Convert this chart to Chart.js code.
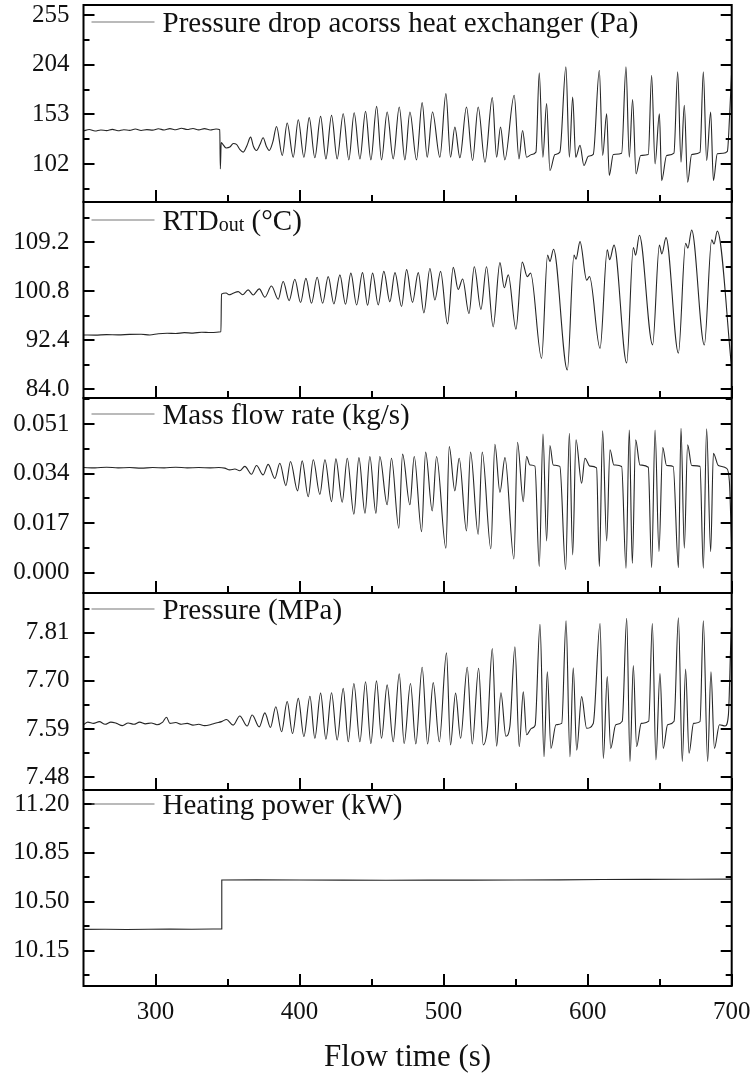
<!DOCTYPE html>
<html>
<head>
<meta charset="utf-8">
<title>Flow instability time series</title>
<script src="https://cdn.jsdelivr.net/npm/chart.js@4.4.1/dist/chart.umd.min.js"></script>
<style>
  html, body { margin: 0; padding: 0; background: #fff; overflow: hidden; }
  #wrap { position: relative; width: 754px; height: 1076px; }
  #wrap canvas { position: absolute; left: 0; top: 0; }
</style>
</head>
<body>
<div id="wrap">
  <canvas id="c1" width="754" height="1076"></canvas>
  <canvas id="c2" width="754" height="1076"></canvas>
  <canvas id="c3" width="754" height="1076"></canvas>
  <canvas id="c4" width="754" height="1076"></canvas>
  <canvas id="c5" width="754" height="1076"></canvas>
</div>
<script>
// ---------- shared time axis ----------
const xTitle = 'Flow time (s)';
const xTickLabels = ['300', '400', '500', '600', '700'];

// ---------- pressure drop across the heat exchanger (Pa) ----------
const dpLabel = ['Pressure drop acorss heat exchanger (Pa)'];
const dpTickLabels = ['102', '153', '204', '255'];
const dpTime = [250, 254, 258, 262, 266, 270, 274, 278, 282, 286, 290, 294, 298, 302, 306, 310, 314, 318, 322, 326, 330, 334, 338, 342, 344.6,
  345.0, 345.6, 346.5, 349.0, 351.6, 354.0, 356.2, 358.5, 360.9, 363.5, 366.0, 368.0, 370.1, 372.5, 374.7, 377.0, 378.9, 381.5, 384.0, 388.0,
  391.4, 395.6, 399.1, 403.0, 406.7, 410.6, 414.6, 418.3, 422.2, 426.1, 430.3, 434.2, 437.9, 441.9, 445.8, 449.5, 453.5, 456.9, 460.8, 465.0,
  469.2, 473.1, 476.6, 481.2, 485.1, 488.6, 492.3, 497.4, 501.6, 504.8, 507.8, 511.3, 515.9, 520.1, 524.0, 528.7, 533.8, 536.8, 539.5, 542.5,
  549.0, 552.3, 554.8, 557.6, 561.1, 564.1, 566.4, 568.9, 571.5, 573.8, 577.3, 580.7, 584.9, 587.3, 589.6, 591.7, 594.7, 597.4, 600.5, 603.9,
  608.1, 610.4, 613.2, 615.0, 617.8, 623.6, 626.6, 628.9, 631.2, 633.6, 636.8, 642.1, 644.4, 646.8, 649.8, 651.4, 654.8, 659.9, 662.5, 664.8,
  667.1, 669.4, 672.2, 678.0, 680.3, 682.6, 685.4, 687.3, 690.0, 694.0, 697.0, 698.5, 700];
const dpValue = [136.0, 137.4, 135.9, 137.0, 136.3, 137.6, 136.1, 137.2, 136.6, 137.9, 136.4, 137.3, 136.8, 138.2, 137.0, 138.4, 137.2, 138.8, 137.4, 138.5, 137.1, 138.3, 137.0, 138.0, 137.3,
  97.0, 124.0, 122.8, 118.5, 119.4, 123.0, 122.1, 117.0, 114.2, 121.0, 129.6, 120.0, 115.9, 122.0, 129.0, 120.0, 115.9, 125.0, 140.6, 110.8,
  144.1, 109.0, 147.5, 109.0, 149.6, 108.4, 150.9, 107.3, 152.0, 107.3, 153.7, 106.3, 154.7, 107.3, 156.1, 106.3, 161.2, 106.3, 155.4, 107.3,
  160.6, 106.3, 155.4, 106.3, 165.0, 109.0, 155.4, 109.0, 174.3, 109.0, 140.0, 108.4, 160.6, 105.6, 160.6, 103.9, 170.2, 109.0, 140.0, 106.3,
  172.6, 107.3, 136.5, 109.0, 111.8, 114.2, 195.6, 109.0, 164.0, 95.3, 111.8, 114.2, 201.8, 109.0, 170.9, 109.0, 121.1, 100.5, 110.0, 112.0,
  198.3, 110.8, 153.7, 90.2, 111.8, 113.0, 201.8, 109.0, 168.1, 91.9, 110.8, 111.8, 193.2, 102.2, 153.7, 85.0, 110.8, 113.2, 196.6, 103.9,
  162.3, 83.3, 111.8, 114.0, 196.6, 105.6, 155.4, 85.0, 112.5, 113.0, 115.0, 150.0, 198.0];

// ---------- outlet RTD temperature (°C) ----------
const rtdLabel = ['RTD', 'out', ' (°C)'];
const rtdTickLabels = ['84.0', '92.4', '100.8', '109.2'];
const rtdTime = [250, 258, 266, 274, 282, 290, 296, 302, 308, 314, 320, 326, 332, 338, 345.4,
  345.8, 349.0, 351.0, 353.9, 357.4, 360.4, 364.3, 367.8, 372.0, 375.9, 380.5, 385.2, 388.6, 392.8, 396.7, 400.7, 404.4, 408.3, 412.2, 416.0,
  419.9, 423.8, 428.0, 431.9, 435.6, 439.6, 443.7, 447.2, 450.7, 454.6, 458.5, 462.7, 466.2, 470.8, 474.3, 478.4, 482.4, 486.3, 490.5, 493.9,
  497.9, 502.7, 506.7, 510.1, 513.2, 517.6, 521.3, 525.9, 529.8, 534.4, 539.1, 542.1, 544.9, 550.2, 554.6, 558.1, 560.4, 568.0, 572.2, 573.8,
  576.3, 585.9, 590.5, 591.9, 594.7, 599.3, 601.3, 608.6, 613.6, 615.3, 618.3, 627.1, 631.7, 633.3, 635.9, 645.1, 649.8, 651.5, 654.4, 663.0,
  668.0, 669.6, 672.2, 681.0, 686.1, 687.7, 690.0, 700];
const rtdValue = [93.30, 93.28, 93.36, 93.32, 93.40, 93.42, 93.30, 93.52, 93.60, 93.55, 93.70, 93.63, 93.78, 93.72, 93.86,
  100.3, 100.5, 100.2, 100.45, 100.74, 100.2, 101.03, 100.17, 101.2, 99.77, 101.7, 99.43, 102.46, 99.2, 102.85, 98.86, 103.0, 98.74, 103.2, 98.74,
  103.3, 98.63, 103.6, 98.57, 103.9, 98.46, 104.0, 98.4, 103.9, 98.46, 104.2, 99.0, 104.0, 98.2, 104.5, 98.9, 104.0, 97.1, 104.7, 99.3,
  104.2, 95.2, 104.9, 101.1, 102.9, 97.0, 105.0, 97.7, 105.0, 94.7, 105.7, 101.4, 103.6, 94.3, 105.8, 103.3, 103.9, 89.3, 107.0, 105.9,
  108.0, 87.3, 107.0, 106.3, 109.3, 102.7, 103.3, 91.0, 107.9, 106.2, 108.7, 88.5, 108.3, 107.0, 110.4, 91.6, 108.7, 107.2, 110.0, 90.2,
  109.0, 108.2, 111.3, 91.6, 109.6, 108.9, 111.1, 87.5];

// ---------- mass flow rate (kg/s) ----------
const mfLabel = ['Mass flow rate (kg/s)'];
const mfTickLabels = ['0.000', '0.017', '0.034', '0.051'];
const mfTime = [250, 258, 266, 274, 282, 290, 298, 306, 314, 322, 330, 338, 344, 348,
  351.6, 355.1, 358.5, 362.0, 366.6, 370.1, 374.7, 378.2, 382.8, 386.3, 390.5, 393.7, 398.6, 401.8, 406.0, 409.5, 414.1, 417.6, 422.2, 425.2,
  429.6, 433.1, 437.7, 441.2, 445.4, 448.8, 453.0, 455.7, 460.8, 463.8, 468.9, 471.5, 476.6, 479.6, 484.7, 487.5, 492.1, 495.1, 501.6, 503.9,
  507.8, 510.8, 515.9, 518.7, 524.0, 526.8, 532.8, 535.6, 539.1, 542.6, 548.8, 551.3, 555.3, 557.6, 559.9, 563.4, 566.4, 569.0, 571.5, 573.8,
  576.1, 580.7, 584.7, 587.3, 589.6, 591.9, 595.8, 598.1, 601.6, 606.2, 608.1, 610.4, 613.2, 615.5, 618.2, 623.6, 626.6, 628.9, 631.0, 633.3,
  636.3, 642.1, 644.4, 646.8, 649.5, 652.1, 654.8, 659.4, 663.0, 664.8, 667.1, 669.4, 672.2, 678.0, 680.3, 682.6, 685.4, 687.3, 690.7, 696.5,
  698.4, 700];
const mfValue = [0.0361, 0.0360, 0.0362, 0.0360, 0.0361, 0.0359, 0.0361, 0.0360, 0.0362, 0.0360, 0.0361, 0.0360, 0.0361, 0.0359,
  0.0353, 0.0356, 0.0350, 0.0365, 0.0338, 0.0368, 0.0336, 0.0372, 0.0324, 0.0376, 0.0299, 0.0382, 0.0281, 0.0384, 0.0261, 0.0388, 0.0269, 0.0388, 0.0244, 0.0391,
  0.0242, 0.0393, 0.0201, 0.0395, 0.0204, 0.0399, 0.0204, 0.0399, 0.0233, 0.0393, 0.0153, 0.0407, 0.0233, 0.0399, 0.0141, 0.0414, 0.0212, 0.0399, 0.0084, 0.0433,
  0.0281, 0.0393, 0.0143, 0.0414, 0.0132, 0.0414, 0.0082, 0.0441, 0.0276, 0.0395, 0.0047, 0.0448, 0.0244, 0.0399, 0.0370, 0.0366, 0.0021, 0.0476, 0.0109, 0.0437,
  0.0370, 0.0365, 0.0010, 0.0479, 0.0061, 0.0456, 0.0307, 0.0393, 0.0366, 0.0360, 0.0021, 0.0487, 0.0109, 0.0422, 0.0370, 0.0365, 0.0015, 0.0490, 0.0032, 0.0456,
  0.0370, 0.0362, 0.0017, 0.0490, 0.0072, 0.0430, 0.0368, 0.0365, 0.0017, 0.0496, 0.0084, 0.0439, 0.0368, 0.0365, 0.0015, 0.0494, 0.0072, 0.0410, 0.0368, 0.0358,
  0.0313, 0.0080];

// ---------- system pressure (MPa) ----------
const pLabel = ['Pressure (MPa)'];
const pTickLabels = ['7.48', '7.59', '7.70', '7.81'];
const pTime = [250, 253, 257, 261, 265, 269, 273, 277, 281, 285, 289, 293, 297, 301, 305, 307.6, 310, 314, 318, 322, 326, 330, 334, 338, 342, 345.8,
  349.3, 353.9, 358.5, 363.6, 367.1, 372.0, 375.9, 379.8, 383.5, 387.5, 391.4, 395.1, 399.1, 403.0, 407.2, 410.6, 414.6, 418.3, 422.2, 426.1,
  430.3, 433.8, 437.7, 441.9, 445.8, 449.5, 453.4, 456.9, 460.8, 465.0, 469.2, 472.6, 477.0, 480.7, 485.1, 488.9, 492.8, 497.0, 502.0, 504.8,
  508.3, 511.8, 516.4, 519.9, 524.3, 527.5, 530.5, 533.8, 536.8, 539.8, 543.2, 546.0, 549.5, 552.5, 555.3, 557.6, 561.1, 563.5, 566.9, 569.7,
  572.0, 574.5, 578.0, 582.0, 585.0, 587.7, 590.0, 592.4, 595.8, 599.3, 603.9, 608.6, 610.9, 613.6, 616.0, 619.5, 624.0, 627.1, 629.4, 631.7,
  634.0, 637.2, 642.4, 644.9, 647.4, 650.2, 652.5, 655.5, 660.0, 663.0, 665.7, 668.0, 670.4, 673.5, 678.0, 680.3, 683.3, 685.6, 688.0, 691.5,
  695.5, 697.7, 699.5, 700];
const pValue = [7.600, 7.606, 7.603, 7.607, 7.601, 7.606, 7.603, 7.598, 7.604, 7.601, 7.606, 7.602, 7.604, 7.600, 7.606, 7.617, 7.603, 7.605, 7.601, 7.603, 7.599, 7.601, 7.598, 7.600, 7.604, 7.607,
  7.612, 7.599, 7.620, 7.597, 7.622, 7.595, 7.627, 7.594, 7.641, 7.584, 7.653, 7.580, 7.660, 7.573, 7.665, 7.569, 7.672, 7.567, 7.673, 7.565,
  7.683, 7.561, 7.694, 7.561, 7.698, 7.557, 7.700, 7.569, 7.691, 7.561, 7.716, 7.557, 7.694, 7.556, 7.731, 7.556, 7.696, 7.561, 7.764, 7.554,
  7.672, 7.569, 7.731, 7.556, 7.729, 7.554, 7.596, 7.774, 7.551, 7.673, 7.574, 7.596, 7.778, 7.550, 7.675, 7.577, 7.592, 7.598, 7.829, 7.527,
  7.721, 7.546, 7.600, 7.603, 7.837, 7.527, 7.730, 7.542, 7.664, 7.592, 7.603, 7.831, 7.523, 7.710, 7.546, 7.600, 7.608, 7.843, 7.516, 7.735,
  7.550, 7.603, 7.608, 7.831, 7.520, 7.717, 7.546, 7.600, 7.608, 7.844, 7.516, 7.727, 7.535, 7.603, 7.607, 7.837, 7.516, 7.721, 7.546, 7.600,
  7.597, 7.622, 7.800, 7.830];

// ---------- heating power (kW) ----------
const pwLabel = ['Heating power (kW)'];
const pwTickLabels = ['10.15', '10.50', '10.85', '11.20'];
const pwTime = [250, 265, 280, 295, 310, 325, 340, 345.6, 346.0, 370, 400, 430, 460, 490, 520, 550, 580, 610, 640, 670, 700];
const pwValue = [10.302, 10.303, 10.301, 10.303, 10.304, 10.303, 10.305, 10.305, 10.656, 10.657, 10.656, 10.655, 10.654, 10.655, 10.655, 10.656, 10.657, 10.659, 10.660, 10.661, 10.662];

// ---------- layout of the five stacked panels ----------
const SERIF = '"Liberation Serif", "Times New Roman", serif';
const PAGE_H = 1076;
const panels = [
  { id: 'c1', top: 5,   bottom: 202, min: 63,     max: 265.3,  ticks: dpTickLabels,  time: dpTime,  value: dpValue,  legend: dpLabel,  legendDy: 17, smooth: true },
  { id: 'c2', top: 202, bottom: 398, min: 82.5,   max: 116.1,  ticks: rtdTickLabels, time: rtdTime, value: rtdValue, legend: rtdLabel, legendDy: 18, smooth: true },
  { id: 'c3', top: 398, bottom: 593, min: -0.007, max: 0.0600, ticks: mfTickLabels,  time: mfTime,  value: mfValue,  legend: mfLabel,  legendDy: 16, smooth: true },
  { id: 'c4', top: 593, bottom: 790, min: 7.451,  max: 7.9006, ticks: pTickLabels,   time: pTime,   value: pValue,   legend: pLabel,   legendDy: 16, smooth: true },
  { id: 'c5', top: 790, bottom: 986, min: 9.897,  max: 11.300, ticks: pwTickLabels,  time: pwTime,  value: pwValue,  legend: pwLabel,  legendDy: 14, smooth: false }
];

// Frame, inward tick marks on all sides of a panel, and its in-plot legend.
function panelDecor(spec) {
  return {
    id: 'panelDecor',
    afterDatasetsDraw(chart) {
      const { ctx, chartArea: a, scales: { x, y } } = chart;
      ctx.save();
      ctx.strokeStyle = '#000';
      ctx.lineWidth = 2;
      ctx.beginPath();

      const yv = spec.ticks.map(Number);
      const ys = yv[1] - yv[0];
      const yMarks = yv.map(v => [v, 11]);
      for (let v = yv[0] - ys / 2; v <= spec.max + 1e-9; v += ys) {
        if (v >= spec.min - 1e-9) yMarks.push([v, 6]);
      }
      yMarks.forEach(([v, len]) => {
        const py = Math.round(y.getPixelForValue(v));
        ctx.moveTo(a.left, py); ctx.lineTo(a.left + len, py);
        ctx.moveTo(a.right, py); ctx.lineTo(a.right - len, py);
      });

      const xv = xTickLabels.map(Number);
      const xs = xv[1] - xv[0];
      const xMarks = xv.map(v => [v, 12]);
      for (let v = xv[0] - xs / 2; v < x.max; v += xs) {
        if (v > x.min) xMarks.push([v, 7]);
      }
      xMarks.forEach(([v, len]) => {
        const px = Math.round(x.getPixelForValue(v));
        ctx.moveTo(px, a.bottom); ctx.lineTo(px, a.bottom - len);
      });
      ctx.stroke();
      ctx.strokeRect(a.left, a.top, a.right - a.left, a.bottom - a.top);

      // legend: short line sample followed by the series name
      const ly = a.top + spec.legendDy;
      ctx.strokeStyle = '#777';
      ctx.lineWidth = 1.2;
      ctx.beginPath();
      ctx.moveTo(a.left + 8, ly);
      ctx.lineTo(a.left + 71, ly);
      ctx.stroke();

      ctx.fillStyle = '#111';
      ctx.textBaseline = 'alphabetic';
      ctx.textAlign = 'left';
      let tx = a.left + 79;
      spec.legend.forEach((part, i) => {
        const sub = i % 2 === 1;
        ctx.font = (sub ? '20px ' : '29px ') + SERIF;
        ctx.fillText(part, tx, ly + 10 + (sub ? 1 : 0));
        tx += ctx.measureText(part).width;
      });
      ctx.restore();
    }
  };
}

panels.forEach((spec, idx) => {
  const isLast = idx === panels.length - 1;
  const points = spec.time.map((t, i) => ({ x: t, y: spec.value[i] }));
  new Chart(document.getElementById(spec.id), {
    type: 'line',
    data: {
      datasets: [{
        data: points,
        borderColor: '#262626',
        borderWidth: 1.1,
        pointRadius: 0,
        fill: false,
        tension: 0,
        cubicInterpolationMode: spec.smooth ? 'monotone' : 'default'
      }]
    },
    options: {
      responsive: false,
      animation: false,
      devicePixelRatio: 1,
      events: [],
      layout: { padding: { top: spec.top, bottom: isLast ? 0 : PAGE_H - spec.bottom, left: 0, right: 22.3 } },
      plugins: { legend: { display: false }, tooltip: { enabled: false } },
      scales: {
        x: {
          type: 'linear',
          min: 250,
          max: 700,
          display: isLast,
          grid: { display: false, drawTicks: false },
          border: { display: false },
          afterBuildTicks: s => { s.ticks = xTickLabels.map(l => ({ value: Number(l) })); },
          ticks: {
            autoSkip: false, maxRotation: 0, padding: 11, color: '#111',
            font: { family: SERIF, size: 25 },
            callback: (v, i) => xTickLabels[i]
          },
          title: {
            display: isLast, text: xTitle, color: '#111',
            font: { family: SERIF, size: 31, lineHeight: 1.2 },
            padding: { top: 0, bottom: 0 }
          },
          afterFit: s => { s.height = isLast ? PAGE_H - spec.bottom : 0; s.paddingLeft = 0; s.paddingRight = 0; }
        },
        y: {
          type: 'linear',
          min: spec.min,
          max: spec.max,
          grid: { display: false, drawTicks: false },
          border: { display: false },
          afterBuildTicks: s => { s.ticks = spec.ticks.map(l => ({ value: Number(l) })); },
          ticks: {
            autoSkip: false, padding: 14, color: '#111',
            font: { family: SERIF, size: 25 },
            callback: (v, i) => spec.ticks[i]
          },
          afterFit: s => { s.width = 83.5; s.paddingTop = 0; s.paddingBottom = 0; }
        }
      }
    },
    plugins: [panelDecor(spec)]
  });
});
</script>
</body>
</html>
